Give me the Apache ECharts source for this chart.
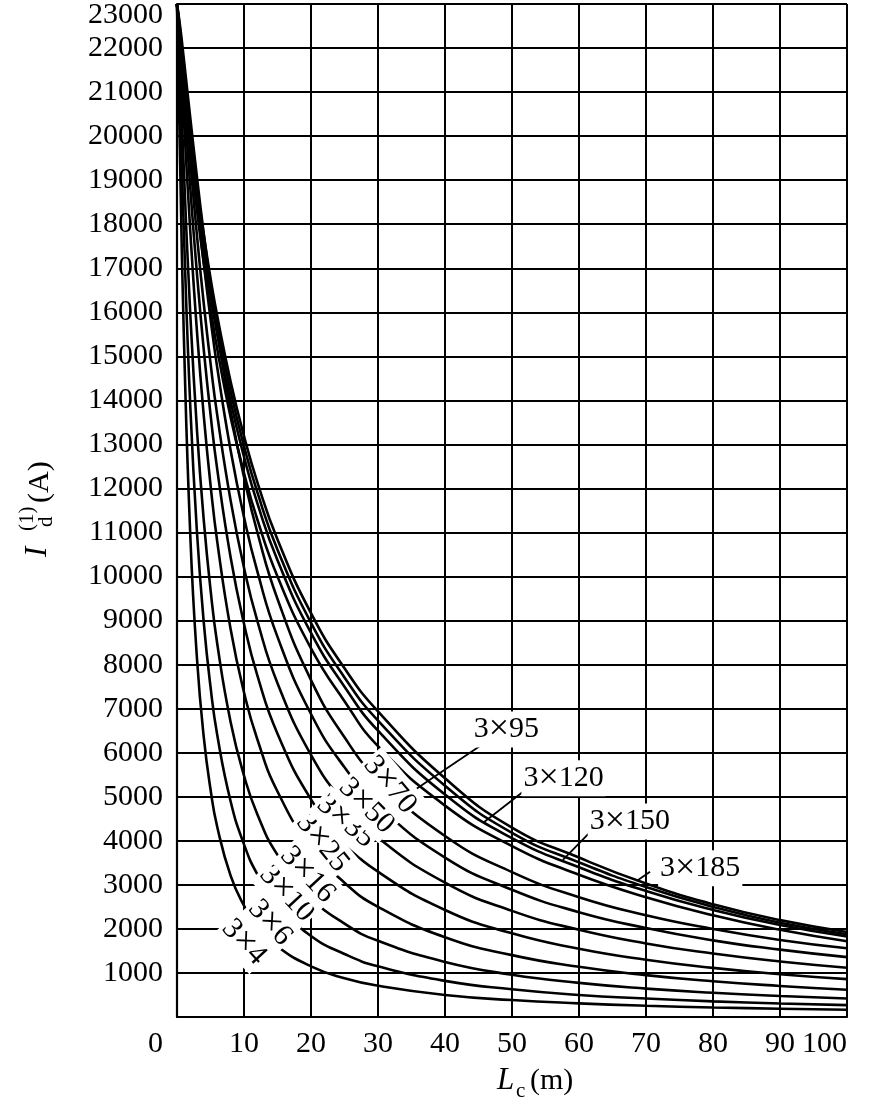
<!DOCTYPE html>
<html>
<head>
<meta charset="utf-8">
<title>Id(1) vs Lc</title>
<script src="https://cdn.jsdelivr.net/npm/echarts@6/dist/echarts.min.js"></script>
<style>
  html, body { margin: 0; padding: 0; background: #fff; }
  #chart { width: 874px; height: 1115px; }
</style>
</head>
<body>
<div id="chart"></div>
<script>
// cable length (m)
var lengthM = [0, 0.5, 1, 2, 3, 4, 5, 6, 8, 10, 12, 15, 20, 25, 30, 40, 50, 60, 70, 80, 90, 100];

// single-phase short-circuit current (A), one array per cable section
var cur3x4   = [23000, 19130, 15590, 10870, 8100, 6350, 5170, 4320, 3210, 2530, 2060, 1600, 1150, 880, 710, 500, 385, 310, 255, 217, 188, 165];
var cur3x6   = [23000, 20540, 17940, 13810, 10960, 8950, 7500, 6410, 4900, 3920, 3240, 2540, 1840, 1430, 1150, 820, 630, 500, 420, 355, 307, 270];
var cur3x10  = [23000, 21270, 19320, 15910, 13280, 11270, 9710, 8480, 6700, 5480, 4600, 3680, 2710, 2120, 1730, 1250, 960, 775, 645, 550, 477, 420];
var cur3x16  = [23000, 21840, 20450, 17800, 15520, 13640, 12090, 10800, 8810, 7370, 6300, 5120, 3850, 3050, 2500, 1810, 1405, 1140, 950, 810, 705, 620];
var cur3x25  = [23000, 22080, 20970, 18790, 16840, 15140, 13690, 12440, 10440, 8930, 7750, 6430, 4940, 3970, 3300, 2430, 1900, 1550, 1300, 1115, 970, 860];
var cur3x35  = [23000, 22220, 21290, 19420, 17710, 16190, 14850, 13670, 11730, 10200, 8990, 7580, 5950, 4850, 4070, 3050, 2410, 1980, 1670, 1440, 1260, 1120];
var cur3x50  = [23000, 22350, 21570, 19980, 18470, 17100, 15860, 14750, 12870, 11350, 10110, 8630, 6880, 5670, 4800, 3620, 2890, 2380, 2020, 1740, 1530, 1360];
var cur3x70  = [23000, 22450, 21780, 20390, 19040, 17780, 16630, 15580, 13760, 12260, 11000, 9490, 7650, 6350, 5400, 4110, 3290, 2720, 2310, 2000, 1750, 1560];
var cur3x95  = [23000, 22050, 21180, 19630, 18290, 17120, 16090, 15170, 13620, 12350, 11290, 10000, 8370, 7170, 6150, 4800, 3880, 3230, 2720, 2310, 1980, 1720];
var cur3x120 = [23000, 22110, 21290, 19810, 18530, 17400, 16400, 15500, 13980, 12720, 11660, 10370, 8720, 7500, 6500, 5050, 4060, 3400, 2860, 2430, 2090, 1830];
var cur3x150 = [23000, 22150, 21350, 19930, 18680, 17570, 16600, 15720, 14210, 12960, 11910, 10610, 8950, 7710, 6730, 5250, 4180, 3510, 2950, 2500, 2140, 1880];
var cur3x185 = [23000, 22180, 21420, 20040, 18820, 17750, 16780, 15920, 14430, 13190, 12140, 10840, 9170, 7920, 6940, 5420, 4300, 3620, 3030, 2560, 2200, 1930];

var curves = [cur3x4, cur3x6, cur3x10, cur3x16, cur3x25, cur3x35, cur3x50, cur3x70, cur3x95, cur3x120, cur3x150, cur3x185];
var sectionNames = ['3×4', '3×6', '3×10', '3×16', '3×25', '3×35', '3×50', '3×70', '3×95', '3×120', '3×150', '3×185'];

// labels written along the small curves: [L, I] of text centre, angle in degrees (clockwise)
var slantNames  = ['3×4', '3×6', '3×10', '3×16', '3×25', '3×35', '3×50', '3×70'];
var slantAt     = [[10, 1700], [13.9, 2140], [16.4, 2800], [19.5, 3230], [21.7, 3950], [25.2, 4440], [28.3, 4790], [31.8, 5270]];
var slantAngle  = [47, 48, 47, 47, 51, 40, 45, 50];

// labels with leader lines: text left-middle, leader start, leader end (all [L, I])
var leaderNames = ['3×95', '3×120', '3×150', '3×185'];
var leaderText  = [[44.0, 6530], [51.4, 5420], [61.3, 4440], [71.8, 3380]];
var leaderFrom  = [[45.5, 6180], [51.7, 5120], [61.4, 4160], [70.6, 3300]];
var leaderTo    = [[35.8, 5190], [45.7, 4410], [57.6, 3570], [68.6, 3090]];

var FONT = '"Liberation Serif", "Times New Roman", serif';

var chart = echarts.init(document.getElementById('chart'));

var series = curves.map(function (c, i) {
    return {
        name: sectionNames[i],
        type: 'line',
        data: lengthM.map(function (l, k) { return [l, c[k]]; }),
        showSymbol: false,
        symbol: 'none',
        smooth: 0.5,
        lineStyle: { color: '#000', width: 2.6 },
        silent: true,
        z: 3
    };
});

// "×" drawn a little larger, as in the printed figure
function sectionText(name) {
    return name.replace('×', '{x|×}');
}
var labelRich = { x: { fontFamily: FONT, fontSize: 36, color: '#000' } };

var option = {
    animation: false,
    backgroundColor: '#fff',
    grid: { left: 177, right: 27, top: 3, bottom: 98, containLabel: false },
    xAxis: {
        type: 'value', min: 0, max: 100, interval: 10,
        axisLine: { lineStyle: { color: '#000', width: 2.2 } },
        axisTick: { show: false },
        splitLine: { show: true, lineStyle: { color: '#000', width: 2 } },
        axisLabel: {
            color: '#000', fontFamily: FONT, fontSize: 30, margin: 12,
            alignMinLabel: 'right', alignMaxLabel: 'right',
            formatter: function (v) { return v === 0 ? '{zero|0}' : String(v); },
            rich: { zero: { color: '#000', fontFamily: FONT, fontSize: 30, padding: [0, 14, 0, 0] } }
        }
    },
    yAxis: {
        type: 'value', min: 0, max: 23000, interval: 1000,
        axisLine: { lineStyle: { color: '#000', width: 2.2 } },
        axisTick: { show: false },
        splitLine: { show: true, lineStyle: { color: '#000', width: 2 } },
        axisLabel: {
            color: '#000', fontFamily: FONT, fontSize: 30, margin: 14,
            formatter: function (v) {
                if (v === 0) return '';
                if (v === 23000) return '{top|23000}';
                return String(v);
            },
            rich: { top: { color: '#000', fontFamily: FONT, fontSize: 30, padding: [22, 0, 0, 0] } }
        }
    },
    series: series
};
chart.setOption(option);

// annotations placed from data coordinates
var gfx = [];
slantNames.forEach(function (name, i) {
    var p = chart.convertToPixel({ gridIndex: 0 }, slantAt[i]);
    gfx.push({
        type: 'text', x: p[0], y: p[1], z: 10,
        rotation: -slantAngle[i] * Math.PI / 180,
        style: {
            text: sectionText(name), rich: labelRich,
            font: '30px ' + FONT, fill: '#000',
            align: 'center', verticalAlign: 'middle',
            textAlign: 'center', textVerticalAlign: 'middle',
            backgroundColor: '#fff', padding: [0, 2]
        }
    });
});
leaderNames.forEach(function (name, i) {
    var a = chart.convertToPixel({ gridIndex: 0 }, leaderFrom[i]);
    var b = chart.convertToPixel({ gridIndex: 0 }, leaderTo[i]);
    var t = chart.convertToPixel({ gridIndex: 0 }, leaderText[i]);
    gfx.push({
        type: 'line', z: 10,
        shape: { x1: a[0], y1: a[1], x2: b[0], y2: b[1] },
        style: { stroke: '#000', lineWidth: 1.8 }
    });
    gfx.push({
        type: 'text', x: t[0], y: t[1], z: 10,
        style: {
            text: sectionText(name), rich: labelRich,
            font: '30px ' + FONT, fill: '#000',
            align: 'left', verticalAlign: 'middle',
            textAlign: 'left', textVerticalAlign: 'middle',
            backgroundColor: '#fff', padding: [0, 2]
        }
    });
});

// y axis title: I_d^(1) (A), written bottom to top
gfx.push({
    type: 'group', x: 47, y: 557, rotation: Math.PI / 2,
    children: [
        { type: 'text', x: 0, y: -9, style: { text: 'I', font: 'italic 31px ' + FONT, fill: '#000', align: 'left', verticalAlign: 'middle', textAlign: 'left', textVerticalAlign: 'middle' } },
        { type: 'text', x: 26, y: -20, style: { text: '(1)', font: '21px ' + FONT, fill: '#000', align: 'left', verticalAlign: 'middle', textAlign: 'left', textVerticalAlign: 'middle' } },
        { type: 'text', x: 30, y: -1, style: { text: 'd', font: '21px ' + FONT, fill: '#000', align: 'left', verticalAlign: 'middle', textAlign: 'left', textVerticalAlign: 'middle' } },
        { type: 'text', x: 54, y: -7, style: { text: '(A)', font: '30px ' + FONT, fill: '#000', align: 'left', verticalAlign: 'middle', textAlign: 'left', textVerticalAlign: 'middle' } }
    ]
});

// x axis title: L_c (m)
gfx.push({
    type: 'group', x: 497, y: 1081,
    children: [
        { type: 'text', x: 0, y: 0, style: { text: 'L', font: 'italic 31px ' + FONT, fill: '#000', align: 'left', verticalAlign: 'middle', textAlign: 'left', textVerticalAlign: 'middle' } },
        { type: 'text', x: 19, y: 10, style: { text: 'c', font: '21px ' + FONT, fill: '#000', align: 'left', verticalAlign: 'middle', textAlign: 'left', textVerticalAlign: 'middle' } },
        { type: 'text', x: 33, y: 0, style: { text: '(m)', font: '30px ' + FONT, fill: '#000', align: 'left', verticalAlign: 'middle', textAlign: 'left', textVerticalAlign: 'middle' } }
    ]
});

chart.setOption({ graphic: gfx });
</script>
</body>
</html>
